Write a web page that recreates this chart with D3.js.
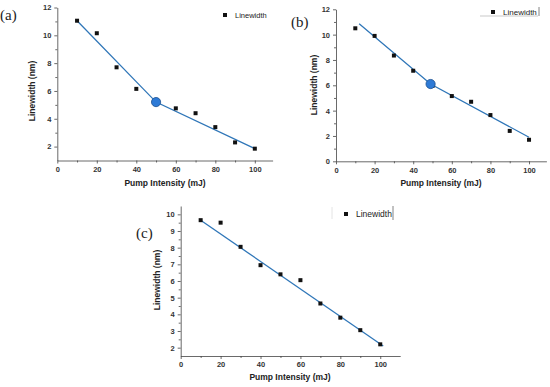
<!DOCTYPE html>
<html>
<head>
	<style>
		body { margin: 0; background: #fff; }
		svg text { font-family: Arial, "Liberation Sans", sans-serif; }
		svg text.tag { font-family: "Liberation Serif", "DejaVu Serif", serif; font-size: 15px; fill: #222; }
		.tick text { font-size: 7.5px; font-weight: bold; fill: #333; }
		.axis path, .axis line { stroke: #444; stroke-width: 0.8px; }
		.title { font-size: 8.5px; font-weight: bold; fill: #222; }
		.fit { fill: none; stroke: #2f76b8; stroke-width: 1.3px; }
	</style>
</head>
<body>
	<div id="chart"></div>
	<script src="https://cdn.jsdelivr.net/npm/d3@7"></script>
	<script>
		var pump = [10, 20, 30, 40, 50, 60, 70, 80, 90, 100];
		var widthA = [11.05, 10.15, 7.7, 6.15, 5.2, 4.75, 4.4, 3.4, 2.3, 1.85];
		var widthB = [10.5, 9.9, 8.35, 7.15, 5.95, 5.15, 4.7, 3.65, 2.4, 1.7];
		var widthC = [9.65, 9.5, 8.05, 6.95, 6.4, 6.05, 4.65, 3.8, 3.05, 2.2];

		// fitted lines and the break points
		var fitAx = [10, 50, 100], fitAy = [11.05, 5.2, 1.85];
		var fitBx = [12, 49, 100], fitBy = [10.85, 6.1, 1.9];
		var fitCx = [10, 101.5], fitCy = [9.65, 2.1];
		var kneeA = [50, 5.2];
		var kneeB = [49, 6.1];

		var xTicks = [0, 20, 40, 60, 80, 100];
		var yTicksA = [2, 4, 6, 8, 10, 12];
		var yTicksB = [0, 2, 4, 6, 8, 10, 12];
		var yTicksC = [2, 3, 4, 5, 6, 7, 8, 9, 10];

		var svg = d3.select('#chart').append('svg')
			.attr('width', 550).attr('height', 387);

		function panel(p) {
			var x = d3.scaleLinear().domain(p.xDomain).range(p.xRange);
			var y = d3.scaleLinear().domain(p.yDomain).range(p.yRange);
			var g = svg.append('g');

			// minor ticks first
			var xMinor = d3.range(10, p.xDomain[1], 20);
			g.append('g').attr('class', 'axis')
				.attr('transform', 'translate(0,' + p.yRange[0] + ')')
				.call(d3.axisBottom(x).tickValues(xMinor).tickSize(2).tickFormat(''))
				.select('.domain').remove();
			g.append('g').attr('class', 'axis')
				.attr('transform', 'translate(' + p.xRange[0] + ',0)')
				.call(d3.axisLeft(y).tickValues(p.yMinor).tickSize(2).tickFormat(''))
				.select('.domain').remove();

			g.append('g').attr('class', 'axis')
				.attr('transform', 'translate(0,' + p.yRange[0] + ')')
				.call(d3.axisBottom(x).tickValues(xTicks).tickSize(3).tickSizeOuter(0).tickPadding(3));
			g.append('g').attr('class', 'axis')
				.attr('transform', 'translate(' + p.xRange[0] + ',0)')
				.call(d3.axisLeft(y).tickValues(p.yTicks).tickSize(3).tickSizeOuter(0).tickPadding(3));

			g.append('text').attr('class', 'title')
				.attr('x', p.xTitle[0]).attr('y', p.xTitle[1])
				.attr('text-anchor', 'middle').text('Pump Intensity (mJ)');
			g.append('text').attr('class', 'title')
				.attr('transform', 'translate(' + p.yTitle[0] + ',' + p.yTitle[1] + ') rotate(-90)')
				.attr('text-anchor', 'middle').text('Linewidth (nm)');

			var line = d3.line().x(function (d) { return x(d[0]); }).y(function (d) { return y(d[1]); });
			g.append('path').attr('class', 'fit').attr('d', line(d3.zip(p.fitX, p.fitY)));

			g.selectAll('rect.pt').data(d3.zip(pump, p.values)).join('rect')
				.attr('class', 'pt')
				.attr('x', function (d) { return x(d[0]) - 2; })
				.attr('y', function (d) { return y(d[1]) - 2; })
				.attr('width', 4).attr('height', 4).attr('fill', '#111');

			if (p.knee) {
				g.append('circle')
					.attr('cx', x(p.knee[0])).attr('cy', y(p.knee[1])).attr('r', 4.6)
					.attr('fill', '#2d7ad6').attr('stroke', '#1b4f8f').attr('stroke-width', 0.8);
			}

			// legend
			g.append('rect').attr('x', p.legend[0] - 2).attr('y', p.legend[1] - 2)
				.attr('width', 4).attr('height', 4).attr('fill', '#111');
			g.append('text').attr('x', p.legend[0] + 10).attr('y', p.legend[1] + 3)
				.attr('font-size', p.legendSize).attr('fill', '#222').text('Linewidth');

			g.append('text').attr('class', 'tag')
				.attr('x', p.tag[0]).attr('y', p.tag[1]).text(p.label);
			return g;
		}

		panel({
			label: '(a)', tag: [0, 20],
			xDomain: [0, 109], xRange: [57.3, 272.6],
			yDomain: [1, 12], yRange: [160.5, 7.5],
			yTicks: yTicksA, yMinor: [3, 5, 7, 9, 11],
			values: widthA, fitX: fitAx, fitY: fitAy, knee: kneeA,
			xTitle: [165, 186], yTitle: [35, 91],
			legend: [225, 15], legendSize: 7.5
		});

		var gb = panel({
			label: '(b)', tag: [291, 27],
			xDomain: [0, 109], xRange: [336, 546.4],
			yDomain: [0, 12], yRange: [161.3, 9.3],
			yTicks: yTicksB, yMinor: [1, 3, 5, 7, 9, 11],
			values: widthB, fitX: fitBx, fitY: fitBy, knee: kneeB,
			xTitle: [441, 186], yTitle: [317, 85],
			legend: [493, 12], legendSize: 8
		});
		gb.append('line').attr('x1', 480).attr('x2', 538).attr('y1', 16).attr('y2', 16)
			.attr('stroke', '#bbb').attr('stroke-width', 0.8);
		gb.append('line').attr('x1', 539).attr('x2', 539).attr('y1', 7).attr('y2', 16)
			.attr('stroke', '#666').attr('stroke-width', 0.8);

		var gc = panel({
			label: '(c)', tag: [136, 238],
			xDomain: [0, 110], xRange: [180.7, 400.2],
			yDomain: [1.5, 10.5], yRange: [356, 206],
			yTicks: yTicksC, yMinor: [2.5, 3.5, 4.5, 5.5, 6.5, 7.5, 8.5, 9.5],
			values: widthC, fitX: fitCx, fitY: fitCy, knee: null,
			xTitle: [290, 380], yTitle: [160, 280],
			legend: [346, 214], legendSize: 8.5
		});
		gc.append('line').attr('x1', 393).attr('x2', 393).attr('y1', 206).attr('y2', 220)
			.attr('stroke', '#666').attr('stroke-width', 0.8);
		gc.append('line').attr('x1', 332).attr('x2', 332).attr('y1', 207).attr('y2', 219)
			.attr('stroke', '#ddd').attr('stroke-width', 0.8);
	</script>
</body>
</html>
